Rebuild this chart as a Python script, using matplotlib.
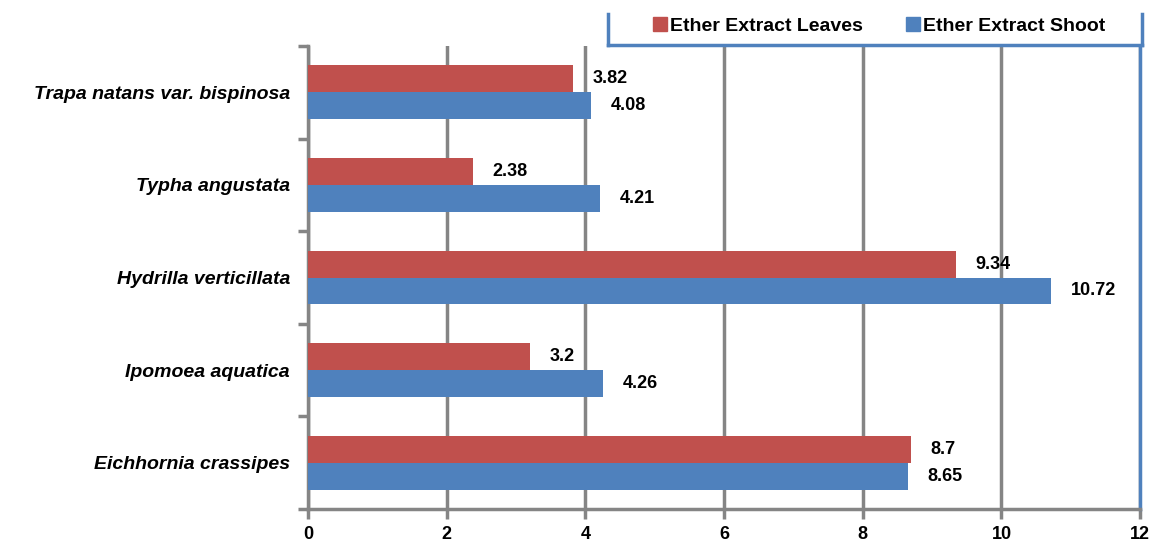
import matplotlib
matplotlib.use('Agg')
import matplotlib.pyplot as plt
from matplotlib.lines import Line2D
import numpy as np

species = ['Eichhornia crassipes', 'Ipomoea aquatica', 'Hydrilla verticillata',
           'Typha angustata', 'Trapa natans var. bispinosa']
leaves = [8.7, 3.2, 9.34, 2.38, 3.82]
shoot = [8.65, 4.26, 10.72, 4.21, 4.08]
xticks = [0, 2, 4, 6, 8, 10, 12]

red = '#C0504D'
blue = '#4F81BD'
grid_gray = '#858585'

plt.rcParams['font.family'] = ['Liberation Sans', 'DejaVu Sans']

fig = plt.figure(figsize=(11.54, 5.44), dpi=100)
ax = fig.add_axes([0.267, 1 - 509 / 544, 0.721, (509 - 46) / 544])

y = np.arange(len(species))
h = 0.29
ax.barh(y + h / 2, leaves, height=h, color=red, zorder=3)
ax.barh(y - h / 2, shoot, height=h, color=blue, zorder=3)

for yi, v in zip(y, leaves):
    ax.text(v + 0.28, yi + h / 2, f'{v:g}', va='center', ha='left',
            fontsize=13, fontweight='bold')
for yi, v in zip(y, shoot):
    ax.text(v + 0.28, yi - h / 2, f'{v:g}', va='center', ha='left',
            fontsize=13, fontweight='bold')

ax.set_xlim(0, 12)
ax.set_ylim(-0.5, len(species) - 0.5)
ax.set_xticks(xticks)
ax.set_xticklabels([str(t) for t in xticks], fontsize=13, fontweight='bold')
ax.set_yticks(y)
ax.set_yticklabels(species, fontsize=14, fontweight='bold', style='italic')
ax.set_yticks(np.arange(-0.5, len(species), 1), minor=True)
ax.tick_params(axis='y', which='major', length=0, pad=13)
ax.tick_params(axis='y', which='minor', length=7, width=2.5, color=grid_gray, direction='out')
ax.tick_params(axis='x', length=7, width=2.5, color=grid_gray, direction='out', pad=5)

ax.grid(axis='x', color=grid_gray, linewidth=2.5, zorder=0)
for s in ['left', 'bottom']:
    ax.spines[s].set_color(grid_gray)
    ax.spines[s].set_linewidth(2.5)
ax.spines['top'].set_visible(False)
ax.spines['right'].set_color(blue)
ax.spines['right'].set_linewidth(2.5)

# legend box (top edge cut off)
x0, x1 = 608 / 1154, 1142 / 1154
yb, yt = 1 - 45 / 544, 1 - 14 / 544
for xs, ys in [([x0, x0], [yb, yt]), ([x0, x1], [yb, yb]), ([x1, x1], [yb, yt])]:
    fig.add_artist(Line2D(xs, ys, color=blue, linewidth=2.5, transform=fig.transFigure))

handles = [plt.Rectangle((0, 0), 1, 1, color=red), plt.Rectangle((0, 0), 1, 1, color=blue)]
fig.legend(handles, ['Ether Extract Leaves', 'Ether Extract Shoot'],
           loc='center', bbox_to_anchor=(879 / 1154, 1 - 26 / 544), ncol=2,
           frameon=False, prop={'size': 14, 'weight': 'bold'},
           handlelength=0.75, handleheight=0.75, handletextpad=0.15, columnspacing=2.2)

fig.savefig('out.png', dpi=100)
